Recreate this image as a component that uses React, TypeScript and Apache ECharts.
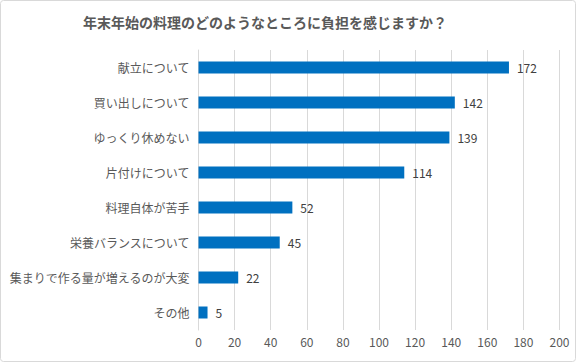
import React, { useEffect, useRef } from "react";
import * as echarts from "echarts";

const titleText = "年末年始の料理のどのようなところに負担を感じますか？";
const categories = [
  "献立について",
  "買い出しについて",
  "ゆっくり休めない",
  "片付けについて",
  "料理自体が苦手",
  "栄養バランスについて",
  "集まりで作る量が増えるのが大変",
  "その他",
];
const values = [172, 142, 139, 114, 52, 45, 22, 5];
const xTicks = { min: 0, max: 200, interval: 20 };

const FONT = "'Noto Sans CJK JP', 'Noto Sans', sans-serif";

export default function App() {
  const ref = useRef<HTMLDivElement>(null);
  useEffect(() => {
    document.body.style.margin = "0";
    if (!ref.current) return;
    const chart = echarts.init(ref.current, null, { renderer: "svg" });
    chart.setOption({
      animation: false,
      backgroundColor: "#ffffff",
      title: {
        text: titleText,
        left: 260,
        textAlign: "center",
        top: 10,
        textStyle: { fontFamily: FONT, fontSize: 14, fontWeight: "bold", color: "#595959" },
      },
      graphic: [
        {
          type: "rect",
          shape: { x: 0.5, y: 0.5, width: 575, height: 361, r: 3 },
          style: { fill: "none", stroke: "#d9d9d9", lineWidth: 1 },
          silent: true,
        },
      ],
      grid: { left: 198.5, right: 16.5, top: 50, bottom: 32, containLabel: false },
      xAxis: {
        type: "value",
        min: xTicks.min,
        max: xTicks.max,
        interval: xTicks.interval,
        axisLine: { show: false },
        axisTick: { show: false },
        splitLine: { show: true, lineStyle: { color: "#d9d9d9", width: 1 } },
        axisLabel: { fontFamily: FONT, fontSize: 12, color: "#595959", margin: 5 },
      },
      yAxis: {
        type: "category",
        data: categories,
        inverse: true,
        axisLine: { show: true, lineStyle: { color: "#d9d9d9" } },
        axisTick: { show: false },
        axisLabel: { fontFamily: FONT, fontSize: 12, color: "#595959", margin: 9 },
      },
      series: [
        {
          type: "bar",
          data: values,
          barWidth: 12,
          itemStyle: { color: "#0070C0" },
          label: {
            show: true,
            position: "right",
            distance: 8,
            fontFamily: FONT,
            fontSize: 12,
            color: "#404040",
          },
        },
      ],
    });
    return () => chart.dispose();
  }, []);
  return <div ref={ref} style={{ width: 576, height: 362 }} />;
}
